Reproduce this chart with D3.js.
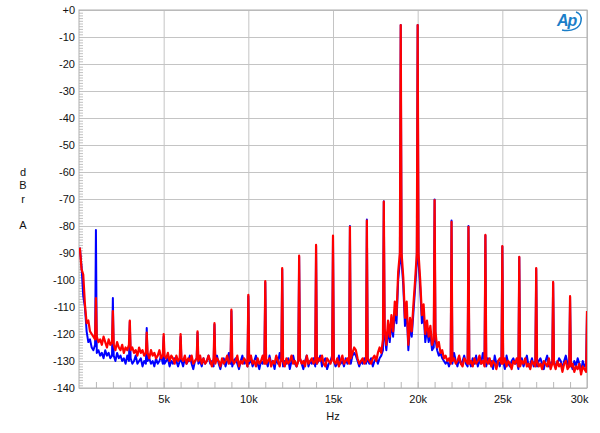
<!DOCTYPE html>
<html>
<head>
<meta charset="utf-8">
<script src="https://cdn.jsdelivr.net/npm/d3@7"></script>
<style>
	body { margin: 0; background: #ffffff; }
	svg { display: block; }
</style>
</head>
<body>
<div id="my_dataviz"></div>
<script>

// Rauschboden alle 100 Hz, ab 50 Hz (dBr)
var floorStart = 50;
var floorStep = 100;

var blueFloor = [
	-88, -95, -106, -110, -119, -123, -122, -125, -126, -124,
	-127, -126, -128, -127, -129, -126, -128, -127, -129, -128,
	-128, -130, -127, -129, -128, -130, -129, -131, -128, -130,
	-129, -131, -130, -128, -131, -130, -129, -132, -130, -131,
	-130, -129, -131, -130, -132, -129, -131, -130, -128, -131,
	-131, -130, -129, -132, -130, -131, -129, -130, -132, -130,
	-130, -132, -129, -131, -130, -128, -131, -133, -130, -129,
	-131, -130, -132, -129, -131, -130, -128, -131, -130, -132,
	-130, -128, -131, -133, -130, -129, -132, -130, -127, -131,
	-132, -130, -129, -131, -133, -130, -128, -131, -130, -132,
	-131, -129, -132, -130, -128, -131, -133, -130, -131, -129,
	-130, -132, -128, -131, -130, -133, -129, -131, -127, -130,
	-132, -130, -131, -129, -133, -130, -128, -131, -132, -130,
	-129, -131, -133, -130, -128, -132, -130, -131, -129, -132,
	-131, -130, -128, -132, -130, -129, -133, -131, -130, -128,
	-130, -132, -131, -128, -131, -130, -132, -129, -131, -130,
	-131, -128, -127, -128, -130, -132, -130, -131, -129, -131,
	-130, -131, -129, -132, -130, -129, -131, -129, -128, -126,
	-121, -126, -118, -123, -116, -121, -111, -116, -100, -93,
	-93, -102, -117, -111, -126, -117, -121, -112, -103, -93,
	-93, -103, -116, -112, -123, -118, -123, -120, -126, -125,
	-122, -126, -128, -127, -129, -130, -131, -130, -132, -130,
	-131, -127, -130, -132, -129, -131, -130, -128, -131, -132,
	-130, -132, -129, -131, -128, -132, -130, -131, -127, -130,
	-132, -129, -131, -130, -133, -128, -131, -130, -132, -129,
	-130, -133, -128, -131, -132, -130, -129, -131, -130, -133,
	-131, -129, -132, -130, -128, -132, -131, -129, -132, -130,
	-132, -130, -129, -131, -133, -130, -128, -132, -131, -130,
	-130, -132, -131, -129, -130, -133, -130, -128, -131, -132,
	-131, -133, -130, -132, -129, -131, -134, -130, -132, -131
];

var redFloor = [
	-88, -96, -98, -109, -116, -115, -119, -120, -121, -122,
	-121, -123, -122, -124, -121, -123, -125, -122, -124, -123,
	-124, -126, -123, -125, -126, -124, -127, -125, -126, -124,
	-126, -125, -127, -126, -128, -125, -127, -126, -128, -127,
	-127, -129, -126, -128, -127, -129, -128, -126, -129, -128,
	-128, -129, -127, -130, -128, -129, -131, -128, -130, -129,
	-129, -130, -128, -131, -129, -130, -128, -131, -130, -129,
	-130, -128, -131, -129, -131, -130, -128, -130, -132, -129,
	-131, -129, -130, -132, -129, -131, -130, -128, -131, -130,
	-129, -131, -130, -128, -132, -130, -131, -129, -130, -132,
	-130, -128, -131, -130, -132, -129, -131, -130, -128, -131,
	-131, -130, -129, -132, -130, -131, -128, -130, -132, -129,
	-130, -132, -129, -131, -130, -128, -131, -130, -132, -130,
	-129, -131, -130, -132, -128, -131, -130, -129, -131, -130,
	-131, -129, -130, -128, -131, -132, -129, -130, -131, -129,
	-130, -131, -129, -132, -130, -128, -131, -130, -129, -131,
	-129, -127, -125, -126, -129, -131, -130, -129, -131, -130,
	-129, -130, -131, -129, -128, -130, -127, -125, -127, -122,
	-118, -124, -115, -121, -113, -119, -108, -113, -97, -90,
	-90, -99, -114, -108, -124, -114, -119, -109, -100, -90,
	-90, -100, -113, -109, -120, -115, -121, -117, -124, -122,
	-119, -125, -123, -127, -126, -129, -128, -130, -129, -131,
	-130, -129, -131, -130, -128, -131, -132, -129, -130, -131,
	-131, -130, -132, -129, -131, -130, -128, -131, -130, -132,
	-130, -131, -129, -132, -130, -131, -133, -130, -129, -131,
	-131, -129, -132, -130, -131, -133, -130, -131, -129, -132,
	-132, -130, -131, -129, -132, -131, -133, -130, -131, -132,
	-130, -132, -131, -133, -130, -131, -132, -129, -133, -131,
	-131, -133, -130, -132, -131, -134, -131, -130, -133, -132,
	-132, -131, -134, -132, -133, -131, -135, -132, -133, -134
];

// Spitzen bei jedem kHz (Zweiton 19k + 20k und Produkte)
var peakFreqs = [1000, 2000, 3000, 4000, 5000, 6000, 7000, 8000, 9000, 10000,
	11000, 12000, 13000, 14000, 15000, 16000, 17000, 18000, 19000, 20000,
	21000, 22000, 23000, 24000, 25000, 26000, 27000, 28000, 29000, 30000];

var bluePeaks = [-81.5, -106.7, -115.5, -117.8, -121, -121, -119.5, -116.5, -111.5, -106,
	-100.8, -96, -91.3, -87.3, -83.8, -80, -77.6, -70.8, -5.6, -5.6,
	-70.2, -78, -80, -83.5, -87.6, -91.6, -95.8, -101, -106.3, -111.8];

var redPeaks = [-106.7, -111.5, -115, -119.5, -120, -120, -119, -116, -111, -105.5,
	-100.4, -95.6, -91, -87, -83.6, -80.3, -78, -71, -5.6, -5.6,
	-70.4, -78.5, -80.3, -83.3, -87.4, -91.4, -95.6, -100.7, -106, -111.5];

// Achsenbeschriftung
var yTicks = [0, -10, -20, -30, -40, -50, -60, -70, -80, -90, -100, -110, -120, -130, -140];
var yTickLabels = ["+0", "-10", "-20", "-30", "-40", "-50", "-60", "-70", "-80", "-90", "-100", "-110", "-120", "-130", "-140"];
var xTicks = [5000, 10000, 15000, 20000, 25000, 30000];
var xTickLabels = ["5k", "10k", "15k", "20k", "25k", "30k"];
var yLetters = ["d", "B", "r", "", "A"];

function buildSeries(floorValues, peakValues) {
	var pts = floorValues.map(function(v, i) { return { f: floorStart + i * floorStep, v: v }; });
	peakFreqs.forEach(function(f, i) { pts.push({ f: f, v: peakValues[i] }); });
	pts.sort(function(a, b) { return a.f - b.f; });
	return pts;
}

function createChart(margin, dimension) {

	var width = dimension.width - margin.left - margin.right,
		height = dimension.height - margin.top - margin.bottom;

	var svg = d3.select("#my_dataviz")
		.append("svg")
		.attr("width", dimension.width)
		.attr("height", dimension.height)
		.style("background", "#ffffff")
		.style("font-family", "'Liberation Sans', Arial, sans-serif");

	var g = svg.append("g")
		.attr("transform", "translate(" + margin.left + "," + margin.top + ")");

	var x = d3.scaleLinear().domain([0, 30000]).range([0, width]);
	var y = d3.scaleLinear().domain([-140, 0]).range([height, 0]);

	// Gitter horizontal
	g.append("g")
		.call(d3.axisLeft(y).tickValues(yTicks).tickSize(-width).tickFormat(""))
		.call(function(a) { a.select(".domain").remove(); })
		.selectAll("line")
		.attr("stroke", "#c4c4c4");

	// Gitter vertikal
	g.append("g")
		.attr("transform", "translate(0," + height + ")")
		.call(d3.axisBottom(x).tickValues(xTicks).tickSize(-height).tickFormat(""))
		.call(function(a) { a.select(".domain").remove(); })
		.selectAll("line")
		.attr("stroke", "#c4c4c4");

	// kleine Striche links (1 dB)
	g.append("g")
		.call(d3.axisLeft(y).tickValues(d3.range(-140, 1, 1)).tickSize(-4).tickFormat(""))
		.call(function(a) { a.select(".domain").remove(); })
		.selectAll("line")
		.attr("stroke", "#c0c0c0");

	// kleine Striche unten (1 kHz)
	g.append("g")
		.attr("transform", "translate(0," + height + ")")
		.call(d3.axisBottom(x).tickValues(d3.range(1000, 30000, 1000)).tickSize(-6).tickFormat(""))
		.call(function(a) { a.select(".domain").remove(); })
		.selectAll("line")
		.attr("stroke", "#b8b8b8");

	// Rahmen
	g.append("rect")
		.attr("width", width)
		.attr("height", height)
		.attr("fill", "none")
		.attr("stroke", "#b0b0b0");

	// Y Beschriftung
	g.append("g")
		.call(d3.axisLeft(y).tickValues(yTicks).tickSize(0).tickPadding(4)
			.tickFormat(function(d, i) { return yTickLabels[i]; }))
		.call(function(a) { a.select(".domain").remove(); })
		.selectAll("text")
		.attr("fill", "#111")
		.style("font-size", "11px");

	// X Beschriftung
	var xa = g.append("g")
		.attr("transform", "translate(0," + height + ")")
		.call(d3.axisBottom(x).tickValues(xTicks).tickSize(0).tickPadding(7)
			.tickFormat(function(d, i) { return xTickLabels[i]; }))
		.call(function(a) { a.select(".domain").remove(); });
	xa.selectAll("text")
		.attr("fill", "#111")
		.style("font-size", "11px")
		.filter(function(d) { return d === 30000; })
		.attr("text-anchor", "end")
		.attr("dx", "1px");

	// Kurven
	g.append("clipPath").attr("id", "clip")
		.append("rect").attr("width", width).attr("height", height);

	var line = d3.line()
		.x(function(d) { return x(d.f); })
		.y(function(d) { return y(d.v); });

	g.append("path")
		.datum(buildSeries(blueFloor, bluePeaks))
		.attr("clip-path", "url(#clip)")
		.attr("fill", "none")
		.attr("stroke", "#0000ff")
		.attr("stroke-width", 2)
		.attr("stroke-linejoin", "round")
		.attr("d", line);

	g.append("path")
		.datum(buildSeries(redFloor, redPeaks))
		.attr("clip-path", "url(#clip)")
		.attr("fill", "none")
		.attr("stroke", "#ff0000")
		.attr("stroke-width", 2.2)
		.attr("stroke-linejoin", "round")
		.attr("d", line);

	// Achsentitel
	svg.selectAll(".ylet")
		.data(yLetters)
		.enter()
		.append("text")
		.attr("x", 23)
		.attr("y", function(d, i) { return 176 + i * 13.3; })
		.attr("text-anchor", "middle")
		.style("font-size", "11px")
		.attr("fill", "#111")
		.text(function(d) { return d; });

	svg.append("text")
		.attr("x", margin.left + x(15000))
		.attr("y", 420)
		.attr("text-anchor", "middle")
		.style("font-size", "11px")
		.attr("fill", "#111")
		.text("Hz");

	// AP Logo
	var logo = svg.append("g").attr("transform", "translate(556,10)");
	logo.append("text")
		.attr("x", 1)
		.attr("y", 16)
		.style("font-size", "16px")
		.style("font-style", "italic")
		.style("font-weight", "bold")
		.style("letter-spacing", "-1px")
		.attr("fill", "#1a7ec8")
		.text("Ap");
	logo.append("path")
		.attr("d", "M6,20 C16,22 24,18 25,11 C26,6 23,3 20,2")
		.attr("fill", "none")
		.attr("stroke", "#1a7ec8")
		.attr("stroke-width", 1.5);
}

var margin = { top: 10, right: 13, bottom: 45, left: 79 };
var dimension = { width: 600, height: 433 };
createChart(margin, dimension);

</script>
</body>
</html>
